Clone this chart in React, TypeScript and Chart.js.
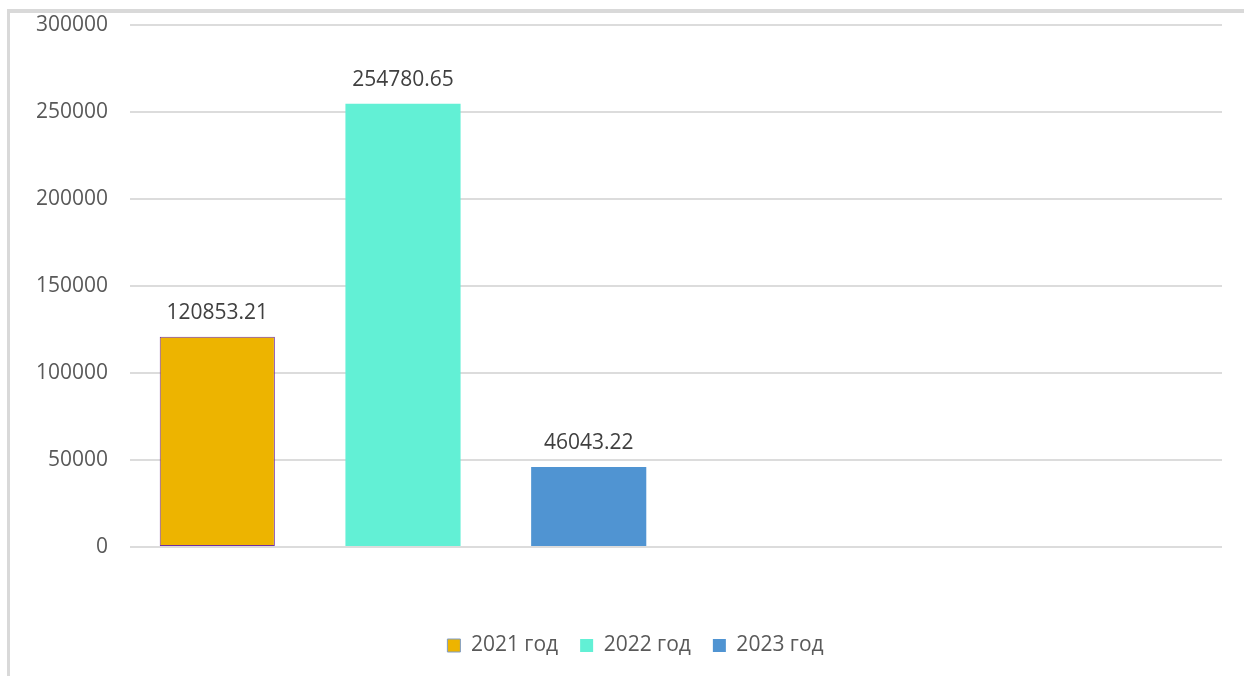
import React, { useEffect, useRef } from "react";
import { Chart, registerables } from "chart.js";

Chart.register(...registerables);

const seriesLabels = ["2021 год", "2022 год", "2023 год"];
const seriesValues = [120853.21, 254780.65, 46043.22];
const seriesColors = ["#EDB400", "#62F0D5", "#5094D2"];
const seriesBorderColors = ["#7030A0", "#62F0D5", "#5094D2"];
const seriesBorderWidths = [1, 0, 0];
const legendStrokeColors = ["#7F9CC4", "#62F0D5", "#5094D2"];
const legendStrokeWidths = [1, 0, 0];
const yTickValues = [0, 50000, 100000, 150000, 200000, 250000, 300000];

const FONT = "'Open Sans', 'Noto Sans', sans-serif";

const dataLabelPlugin = {
  id: "dataLabels",
  afterDatasetsDraw(chart: any) {
    const ctx = chart.ctx;
    ctx.save();
    ctx.font = `21px ${FONT}`;
    ctx.fillStyle = "#404040";
    ctx.textAlign = "center";
    ctx.textBaseline = "alphabetic";
    chart.data.datasets.forEach((ds: any, i: number) => {
      const meta = chart.getDatasetMeta(i);
      meta.data.forEach((el: any, j: number) => {
        const v = ds.data[j].y as number;
        ctx.fillText(v.toFixed(2), el.x, el.y - 18);
      });
    });
    ctx.restore();
  },
};

// centre the legend the way the original's (wider) chart frame does
const legendShiftPlugin = {
  id: "legendShift",
  afterLayout(chart: any) {
    const lg = chart.legend;
    if (lg) {
      lg.left = 49;
      lg.right = chart.chartArea.right;
    }
  },
};

export default function App() {
  const ref = useRef<HTMLCanvasElement | null>(null);

  useEffect(() => {
    if (!ref.current) return;
    Chart.defaults.font.family = FONT;
    const chart = new Chart(ref.current, {
      type: "bar",
      data: {
        datasets: seriesLabels.map((label, i) => ({
          label,
          data: [{ x: i + 1, y: seriesValues[i] }],
          backgroundColor: seriesColors[i],
          borderColor: seriesBorderColors[i],
          borderWidth: seriesBorderWidths[i],
          borderSkipped: false,
          grouped: false,
          categoryPercentage: 1,
          barPercentage: 0.62,
        })),
      },
      options: {
        animation: false,
        responsive: false,
        layout: { padding: { left: 20, right: 22, top: 25, bottom: 10 } },
        scales: {
          x: {
            type: "linear",
            min: 0.53,
            max: 6.41,
            offset: false,
            display: true,
            ticks: { display: false, stepSize: 1, includeBounds: false },
            grid: { display: false },
            border: { display: false },
            afterFit: (s: any) => {
              s.height = 66;
            },
          },
          y: {
            min: yTickValues[0],
            max: yTickValues[yTickValues.length - 1],
            afterBuildTicks: (s: any) => {
              s.ticks = yTickValues.map((v) => ({ value: v }));
            },
            ticks: {
              padding: 22,
              color: "#595959",
              font: { size: 21, family: FONT },
              callback: (v: any) => String(v),
            },
            grid: { color: "#DCDCDC", lineWidth: 2, drawTicks: false },
            border: { display: false },
            afterFit: (s: any) => {
              s.width = 110;
              s.paddingTop = 0;
              s.paddingBottom = 0;
            },
          },
        },
        plugins: {
          tooltip: { enabled: false },
          legend: {
            position: "bottom",
            labels: {
              boxWidth: 13,
              boxHeight: 13,
              padding: 22,
              color: "#595959",
              font: { size: 21, family: FONT },
              generateLabels: (c: any) =>
                c.data.datasets.map((ds: any, i: number) => ({
                  text: ds.label,
                  fillStyle: seriesColors[i],
                  strokeStyle: legendStrokeColors[i],
                  lineWidth: legendStrokeWidths[i],
                  hidden: false,
                  datasetIndex: i,
                  fontColor: "#595959",
                })),
            },
          },
        },
      },
      plugins: [dataLabelPlugin, legendShiftPlugin],
    } as any);
    return () => chart.destroy();
  }, []);

  return (
    <>
      <div
        style={{
          position: "fixed",
          left: 7,
          top: 9,
          width: 1400,
          height: 800,
          borderLeft: "3px solid #D9D9D9",
          borderTop: "4px solid #D9D9D9",
          background: "#FFFFFF",
          zIndex: 0,
        }}
      />
      <div style={{ position: "fixed", left: 0, top: 0, width: 1244, height: 676, zIndex: 1 }}>
        <canvas ref={ref} width={1244} height={676} style={{ display: "block" }} />
      </div>
    </>
  );
}
